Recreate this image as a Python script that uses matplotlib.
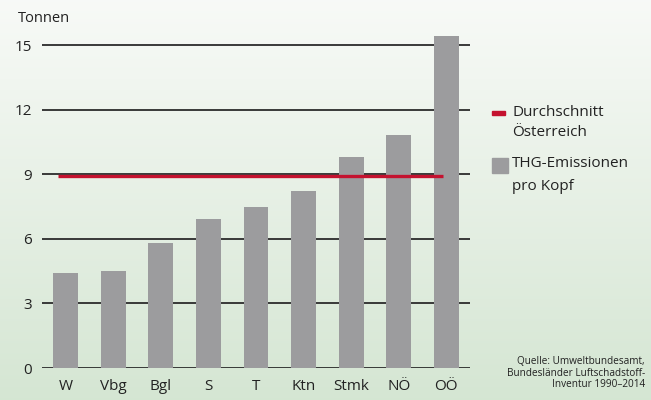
import matplotlib
matplotlib.use("Agg")
import matplotlib.pyplot as plt
import numpy as np
from matplotlib.patches import Rectangle

regions = ["W", "Vbg", "Bgl", "S", "T", "Ktn", "Stmk", "NÖ", "OÖ"]
emissions = [4.4, 4.5, 5.8, 6.9, 7.5, 8.2, 9.8, 10.8, 15.4]
average = 8.9
yticks = [0, 3, 6, 9, 12, 15]

FONT = "Open Sans"
W, H = 651, 400
fig = plt.figure(figsize=(W/100, H/100), dpi=100)

# background gradient
bg = fig.add_axes([0, 0, 1, 1], zorder=-10)
top = np.array([0.972, 0.980, 0.969])
bot = np.array([0.835, 0.902, 0.827])
t = np.linspace(0, 1, 256)[:, None]
grad = top[None, None, :] * (1 - t[:, :, None]) + bot[None, None, :] * t[:, :, None]
bg.imshow(np.repeat(grad, 2, axis=1), aspect="auto", extent=[0, 1, 0, 1])
bg.axis("off")

ax = fig.add_axes([42/W, 32/H, (470-42)/W, (368-30)/H])
ax.patch.set_alpha(0)
x = np.arange(len(regions))
ax.set_xlim(-0.5, 8.5)
ax.set_ylim(0, 15.7)
for v in yticks:
    ax.axhline(v, color="#2b2b2b", lw=1.3, zorder=1)
ax.bar(x, emissions, width=0.525, color="#9c9c9e", zorder=2)
ax.plot([-0.16, 7.93], [average, average], color="#c4122f", lw=2.4, zorder=3, solid_capstyle="butt")

for s in ax.spines.values():
    s.set_visible(False)
ax.set_yticks(yticks)
ax.set_yticklabels([str(v) for v in yticks], fontsize=11, family=FONT, color="#222222")
ax.set_xticks(x)
ax.set_xticklabels(regions, fontsize=11, family=FONT, color="#222222")
ax.tick_params(length=0, pad=7)
ax.tick_params(axis="x", pad=8)

fig.text(18/W, 1 - 18/H, "Tonnen", fontsize=10.5, family=FONT, color="#222222", va="center", ha="left")

# legend
fig.patches.append(Rectangle((492/W, 1 - 115/H), 13/W, 4/H, transform=fig.transFigure, color="#c4122f"))
fig.text(512/W, 1 - 113/H, "Durchschnitt", fontsize=11, family=FONT, color="#222222", va="center")
fig.text(512/W, 1 - 133/H, "Österreich", fontsize=11, family=FONT, color="#222222", va="center")
fig.patches.append(Rectangle((492/W, 1 - 173/H), 16/W, 15/H, transform=fig.transFigure, color="#9c9c9e"))
fig.text(512/W, 1 - 164/H, "THG-Emissionen", fontsize=11, family=FONT, color="#222222", va="center")
fig.text(512/W, 1 - 187/H, "pro Kopf", fontsize=11, family=FONT, color="#222222", va="center")

fig.text(645/W, 1 - 373/H, "Quelle: Umweltbundesamt,\nBundesländer Luftschadstoff-\nInventur 1990–2014",
         fontsize=7.2, family=FONT, color="#222222", ha="right", va="center", linespacing=1.05)

fig.savefig("out.png", dpi=100)
